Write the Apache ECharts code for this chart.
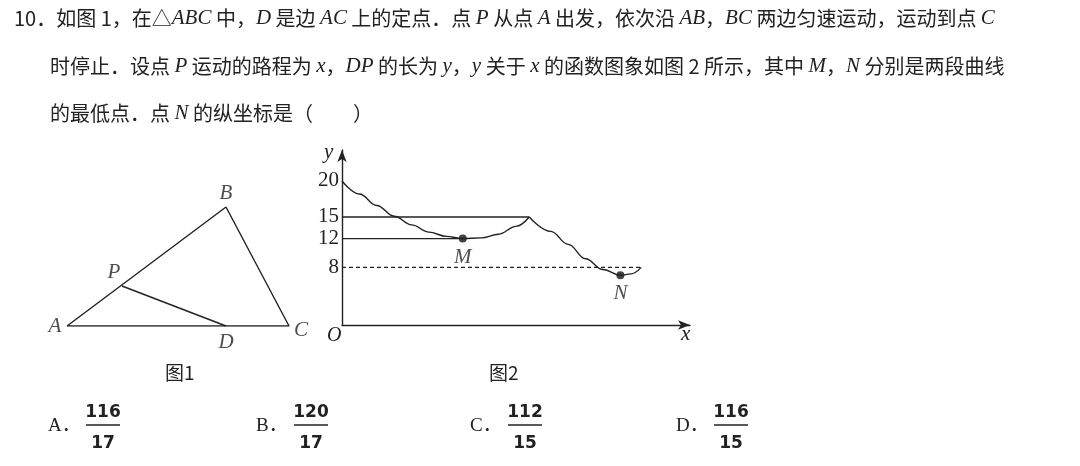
<!DOCTYPE html>
<html>
<head>
<meta charset="utf-8">
<script src="https://cdn.jsdelivr.net/npm/echarts@6/dist/echarts.min.js"></script>
<style>html,body{margin:0;padding:0;background:#fff}#main{width:1080px;height:466px}</style>
</head>
<body>
<div id="main"></div>
<script>
// 图2 曲线数据（x 为路程，y 为 DP 长）
const curve1 = [[0,20],[0.5,18.2],[1,16.6],[1.5,15.1],[2,13.9],[2.5,12.9],[3,12.3],[3.47,12],[4,12.1],[4.5,12.6],[5,13.7],[5.38,15]];
const curve2 = [[5.38,15],[6,13],[6.5,11.2],[7,9.2],[7.5,7.7],[8,6.9],[8.3,7.1],[8.6,8]];
const yTicks = [8,12,15,20];
const points = [{name:'M',value:[3.47,12]},{name:'N',value:[8,6.9]}];
const line15 = [[0,15],[5.38,15]];
const line12 = [[0,12],[3.47,12]];
const dash8 = [[0,8],[8.6,8]];
// 图1 三角形顶点
const tri = [[0,0],[159,119],[222,0],[0,0]];
const pd = [[55,40],[159,0]];
const triLabels = [{name:'A',value:[0,0],off:[-12,0]},{name:'B',value:[159,119],off:[0,-14]},{name:'C',value:[222,0],off:[12,4]},{name:'P',value:[55,40],off:[-8,-14]},{name:'D',value:[159,0],off:[0,16]}];
const choices = [['A．','116','17'],['B．','120','17'],['C．','112','15'],['D．','116','15']];

const serif = '"Liberation Serif", "Noto Sans CJK SC", serif';
const cjk = '"Noto Sans CJK SC", "Liberation Serif", serif';
const chart = echarts.init(document.getElementById('main'));
const rich = {i:{fontStyle:'italic',fontFamily:serif,fontSize:21,color:'#222'}};
const txt = (x,y,t,extra) => ({type:'text',left:x,top:y,style:Object.assign({text:t,font:'20px '+cjk,fill:'#222',rich},extra||{})});

const graphics = [
  txt(14,8,'10．如图 1，在△{i|ABC} 中，{i|D} 是边 {i|AC} 上的定点．点 {i|P} 从点 {i|A} 出发，依次沿 {i|AB}，{i|BC} 两边匀速运动，运动到点 {i|C}'),
  txt(50,56,'时停止．设点 {i|P} 运动的路程为 {i|x}，{i|DP} 的长为 {i|y}，{i|y} 关于 {i|x} 的函数图象如图 2 所示，其中 {i|M}，{i|N} 分别是两段曲线'),
  txt(50,103,'的最低点．点 {i|N} 的纵坐标是（　　）'),
  txt(165,363,'图1',{font:'19px '+cjk}),
  txt(489,363,'图2',{font:'19px '+cjk}),
  {type:'text',left:324,top:142,style:{text:'y',font:'italic 21px '+serif,fill:'#222'}},
  {type:'text',left:681,top:324,style:{text:'x',font:'italic 21px '+serif,fill:'#222'}},
  {type:'text',left:327,top:326,style:{text:'O',font:'italic 20px '+serif,fill:'#222'}}
];
const choiceX = [48,256,470,676];
choices.forEach((c,k) => {
  const x = choiceX[k];
  graphics.push(txt(x,417,c[0],{font:'19px '+serif}));
  graphics.push({type:'text',x:x+55,y:413,style:{text:c[1],font:'bold 17px "DejaVu Sans"',fill:'#222',align:'center',verticalAlign:'middle'}});
  graphics.push({type:'line',shape:{x1:x+38,y1:425,x2:x+72,y2:425},style:{stroke:'#222',lineWidth:1.3}});
  graphics.push({type:'text',x:x+55,y:444,style:{text:c[2],font:'bold 17px "DejaVu Sans"',fill:'#222',align:'center',verticalAlign:'middle'}});
});

const plain = {type:'line',symbol:'none',silent:true,lineStyle:{color:'#222',width:1.4}};
const option = {
  animation:false,
  graphic:graphics,
  grid:[
    {left:342,top:150,width:348,bottom:141},
    {left:67,top:207,width:222,height:119}
  ],
  xAxis:[
    {gridIndex:0,type:'value',min:0,max:10,splitLine:{show:false},axisTick:{show:false},axisLabel:{show:false},
     axisLine:{lineStyle:{color:'#222',width:1.4},symbol:['none','arrow'],symbolSize:[7,12]}},
    {gridIndex:1,type:'value',min:0,max:222,show:false}
  ],
  yAxis:[
    {gridIndex:0,type:'value',min:0,max:24.3,splitLine:{show:false},
     axisLine:{show:true,lineStyle:{color:'#222',width:1.4},symbol:['none','arrow'],symbolSize:[7,12]},
     axisTick:{show:false},
     axisLabel:{customValues:yTicks,color:'#222',fontFamily:serif,fontSize:21,margin:3}},
    {gridIndex:1,type:'value',min:0,max:119,show:false}
  ],
  series:[
    Object.assign({},plain,{data:curve1,smooth:0.4,smoothMonotone:'x'}),
    Object.assign({},plain,{data:curve2,smooth:0.4,smoothMonotone:'x'}),
    Object.assign({},plain,{data:line15}),
    Object.assign({},plain,{data:line12}),
    Object.assign({},plain,{data:dash8,lineStyle:{color:'#222',width:1.2,type:[4,3]}}),
    {type:'scatter',data:points,symbolSize:8,itemStyle:{color:'#111'},
     label:{show:true,position:'bottom',distance:4,formatter:'{b}',fontFamily:serif,fontStyle:'italic',fontSize:21,color:'#222'}},
    Object.assign({},plain,{xAxisIndex:1,yAxisIndex:1,data:tri}),
    Object.assign({},plain,{xAxisIndex:1,yAxisIndex:1,data:pd}),
    {type:'scatter',xAxisIndex:1,yAxisIndex:1,symbolSize:0,data:triLabels.map(d=>({name:d.name,value:d.value,label:{offset:d.off}})),
     label:{show:true,position:'inside',formatter:'{b}',fontFamily:serif,fontStyle:'italic',fontSize:21,color:'#222'}}
  ]
};
chart.setOption(option);
</script>
</body>
</html>
